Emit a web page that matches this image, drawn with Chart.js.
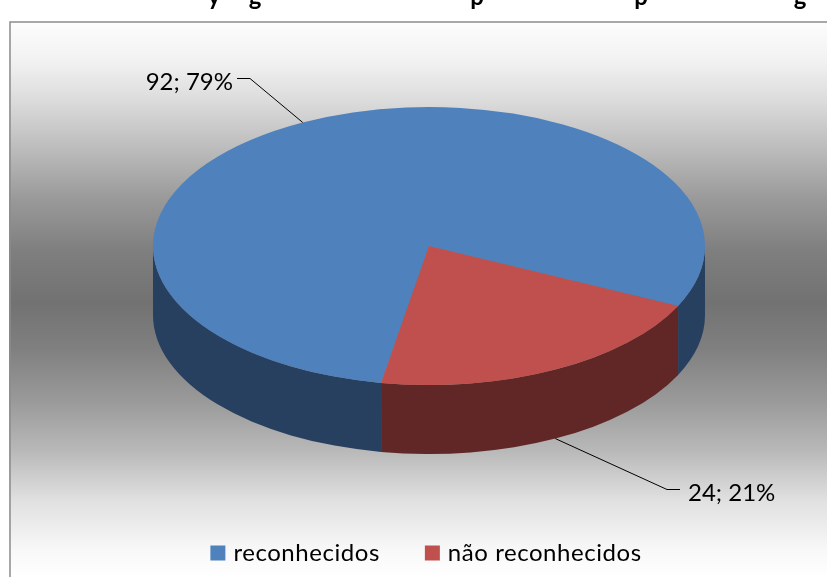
<!DOCTYPE html>
<html>
<head>
<meta charset="utf-8">
<script src="https://cdn.jsdelivr.net/npm/chart.js@4/dist/chart.umd.js"></script>
<style>
  html, body { margin: 0; padding: 0; background: #fff; overflow: hidden; }
  canvas { display: block; }
</style>
</head>
<body>
<canvas id="chart" width="827" height="577"></canvas>
<script>
const categories = ['reconhecidos', 'não reconhecidos'];
const values = [92, 24];
const sliceColors = ['#4F81BD', '#C0504D'];
const wallColors = ['#28405F', '#612726'];
// the title is cut off by the top of the picture, only these letters can be read
const titleLetters = ['y', 'g', 'p', 'p', 'g'];
const titleLetterX = [214, 255, 477, 641, 800];
// background greys down the chart
const bandY = [21, 60, 100, 150, 200, 250, 302, 350, 400, 450, 500, 550, 577];
const bandGrey = [253, 242, 220, 187, 153, 127, 114, 128, 153, 184, 224, 248, 255];

const FONT = 'Lato, "Open Sans", sans-serif';
const total = values.reduce((a, b) => a + b, 0);

// where the tilted pie ends up on the page
const pie = { cx: 429, cy: 246, rx: 276, ry: 139, depth: 69 };
// elbow and text position of each leader line
const leaders = [
  { elbowX: 250, elbowY: 78, endX: 237, textX: 233, textY: 82, align: 'right', wall: false },
  { elbowX: 667, elbowY: 489, endX: 680, textX: 688, textY: 493, align: 'left', wall: true },
];

function tilt(ctx, arc) {
  ctx.translate(pie.cx, pie.cy);
  ctx.scale(pie.rx / arc.outerRadius, pie.ry / arc.outerRadius);
  ctx.translate(-arc.x, -arc.y);
}

const backgroundPlugin = {
  id: 'background',
  beforeDraw(chart) {
    const { ctx, width, height } = chart;
    ctx.save();
    ctx.letterSpacing = '0px';
    ctx.font = `bold 24px ${FONT}`;
    ctx.fillStyle = '#000';
    ctx.textAlign = 'center';
    titleLetters.forEach((letter, i) => ctx.fillText(letter, titleLetterX[i], -3));
    const g = ctx.createLinearGradient(0, 21, 0, height);
    bandY.forEach((y, i) => {
      const c = bandGrey[i];
      g.addColorStop((y - 21) / (height - 21), `rgb(${c},${c},${c})`);
    });
    ctx.fillStyle = g;
    ctx.fillRect(9, 21, width - 9, height - 21);
    ctx.strokeStyle = '#8c8c8c';
    ctx.lineWidth = 1.5;
    ctx.beginPath();
    ctx.moveTo(10, height);
    ctx.lineTo(10, 22);
    ctx.lineTo(width, 22);
    ctx.stroke();
    ctx.restore();
  },
};

const tiltedPiePlugin = {
  id: 'tiltedPie',
  // legend text in the reference is spaced wider than Lato's default,
  // set here because Chart.js resets the canvas state when it sizes it
  beforeLayout(chart) {
    chart.ctx.letterSpacing = '0.55px';
  },
  afterLayout(chart) {
    chart.legend.top -= 2;
    chart.legend.bottom -= 2;
  },
  beforeDatasetsDraw(chart) {
    const { ctx } = chart;
    const arcs = chart.getDatasetMeta(0).data;
    const TWO_PI = Math.PI * 2;
    // side wall of each slice, only the part facing the viewer (angles 0..PI)
    arcs.forEach((arc, i) => {
      const { startAngle, endAngle } = arc.getProps(['startAngle', 'endAngle'], true);
      for (let k = -1; k <= 2; k++) {
        const from = Math.max(startAngle, k * TWO_PI);
        const to = Math.min(endAngle, k * TWO_PI + Math.PI);
        if (from >= to) continue;
        ctx.beginPath();
        ctx.ellipse(pie.cx, pie.cy, pie.rx, pie.ry, 0, from, to);
        ctx.ellipse(pie.cx, pie.cy + pie.depth, pie.rx, pie.ry, 0, to, from, true);
        ctx.closePath();
        ctx.fillStyle = wallColors[i];
        ctx.fill();
      }
    });
    ctx.save();
    tilt(ctx, arcs[0]);
  },
  afterDatasetsDraw(chart) {
    const { ctx } = chart;
    ctx.restore();
    const arcs = chart.getDatasetMeta(0).data;
    // leader lines start on the rim at the middle of each slice
    ctx.save();
    ctx.letterSpacing = '0px';
    ctx.font = `24px ${FONT}`;
    ctx.textBaseline = 'middle';
    arcs.forEach((arc, i) => {
      const { startAngle, endAngle } = arc.getProps(['startAngle', 'endAngle'], true);
      const mid = (startAngle + endAngle) / 2;
      const l = leaders[i];
      const ax = pie.cx + pie.rx * Math.cos(mid);
      const ay = pie.cy + pie.ry * Math.sin(mid) + (l.wall ? pie.depth : 0);
      ctx.strokeStyle = '#000';
      ctx.lineWidth = 1;
      ctx.beginPath();
      ctx.moveTo(ax, ay);
      ctx.lineTo(l.elbowX, l.elbowY + 0.5);
      ctx.lineTo(l.endX, l.elbowY + 0.5);
      ctx.stroke();
      ctx.fillStyle = '#000';
      ctx.textAlign = l.align;
      ctx.fillText(`${values[i]}; ${Math.round(values[i] / total * 100)}%`, l.textX, l.textY);
    });
    ctx.restore();
  },
};

new Chart(document.getElementById('chart'), {
  type: 'pie',
  data: {
    labels: categories,
    datasets: [{
      data: values,
      backgroundColor: sliceColors,
      borderWidth: 0,
    }],
  },
  options: {
    responsive: false,
    animation: false,
    rotation: 190,
    layout: { padding: { left: 29 } },
    plugins: {
      tooltip: { enabled: false },
      legend: {
        position: 'bottom',
        labels: {
          // small box with a thick border: keeps the square 15px but the text closer to it
          boxWidth: 7,
          boxHeight: 7,
          padding: 49,
          color: '#000',
          font: { family: FONT, size: 24 },
          generateLabels: () => categories.map((text, i) => ({
            text,
            index: i,
            fillStyle: sliceColors[i],
            strokeStyle: sliceColors[i],
            fontColor: '#000',
            lineWidth: 8,
            hidden: false,
          })),
        },
      },
    },
  },
  plugins: [backgroundPlugin, tiltedPiePlugin],
});
</script>
</body>
</html>
